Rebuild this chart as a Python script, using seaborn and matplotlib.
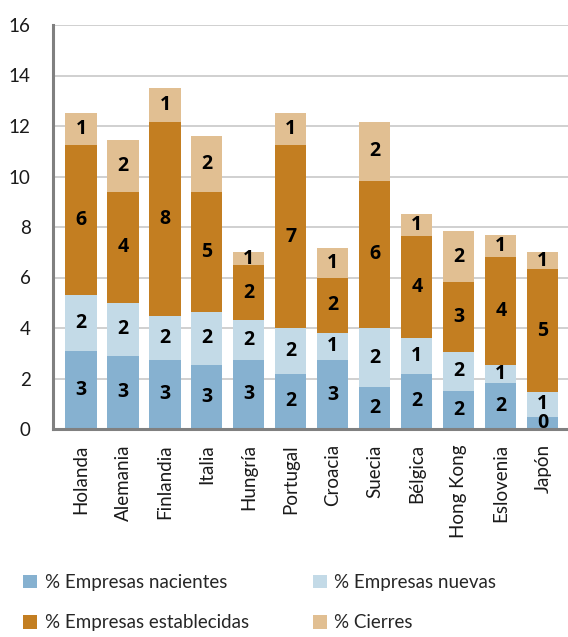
import matplotlib
matplotlib.use("Agg")
import matplotlib.pyplot as plt
import seaborn as sns
import numpy as np
import pandas as pd

paises = ["Holanda", "Alemania", "Finlandia", "Italia", "Hungría", "Portugal",
          "Croacia", "Suecia", "Bélgica", "Hong Kong", "Eslovenia", "Japón"]
nacientes = [3.08, 2.91, 2.74, 2.55, 2.74, 2.18, 2.73, 1.66, 2.18, 1.52, 1.82, 0.48]
nuevas = [2.22, 2.09, 1.75, 2.10, 1.56, 1.81, 1.09, 2.34, 1.43, 1.54, 0.70, 0.99]
establecidas = [5.93, 4.40, 7.65, 4.75, 2.18, 7.24, 2.15, 5.83, 4.03, 2.75, 4.31, 4.85]
cierres = [1.27, 2.04, 1.36, 2.20, 0.53, 1.27, 1.20, 2.34, 0.86, 2.02, 0.84, 0.70]

series_names = ["% Empresas nacientes", "% Empresas nuevas",
                "% Empresas establecidas", "% Cierres"]
series_vals = [nacientes, nuevas, establecidas, cierres]
colors = ["#86b1d0", "#c3dae7", "#c37e21", "#e1bf92"]

sns.set_theme(style="white")
plt.rcParams["font.family"] = ["Lato", "DejaVu Sans"]

fig = plt.figure(figsize=(5.68, 6.37), dpi=100)
ax = fig.add_axes([53 / 568, 1 - 429 / 637, 1 - 53 / 568, (429 - 25) / 637])

bottom = np.zeros(len(paises))
for name, vals, col in zip(series_names, series_vals, colors):
    df = pd.DataFrame({"pais": paises, "valor": vals})
    sns.barplot(data=df, x="pais", y="valor", order=paises, color=col,
                bottom=bottom.copy(), width=0.74, label=name, ax=ax,
                saturation=1, linewidth=0, errorbar=None)
    bottom += np.array(vals)

for cont, vals in zip(ax.containers, series_vals):
    labels = [str(int(np.floor(v + 0.5))) for v in vals]
    ax.bar_label(cont, labels=labels, label_type="center",
                 fontsize=14, fontweight="bold", color="black",
                 family=["Open Sans", "DejaVu Sans"])

ax.set_ylim(0, 16)
ax.set_xlim(-0.667, 11.6)
ax.set_yticks(range(0, 17, 2))
ax.set_xlabel("")
ax.set_ylabel("")
ax.grid(axis="y", color="#c8c8c8", linewidth=1.2)
ax.set_axisbelow(True)
for s in ["top", "right"]:
    ax.spines[s].set_visible(False)
for s in ["left", "bottom"]:
    ax.spines[s].set_color("#808080")
    ax.spines[s].set_linewidth(2.2)
ax.tick_params(axis="y", length=6, color="#c8c8c8", width=1.2, pad=10,
               labelsize=13.5, labelcolor="#1a1a1a")
ax.tick_params(axis="x", length=0, pad=11, labelsize=13.5, labelcolor="#1a1a1a",
               rotation=90)
for t in ax.get_xticklabels():
    t.set_va("top")

h, l = ax.get_legend_handles_labels()
if ax.get_legend() is not None:
    ax.get_legend().remove()
order = [0, 2, 1, 3]
fig.legend([h[i] for i in order], [l[i] for i in order], ncol=2,
           loc="upper left", bbox_to_anchor=(23 / 568, 1 - 574 / 637),
           frameon=False, fontsize=13.5, handlelength=0.76, handleheight=0.76,
           handletextpad=0.4, columnspacing=3.4, labelspacing=1.25,
           borderpad=0, borderaxespad=0)

fig.savefig("out.png", dpi=100)
